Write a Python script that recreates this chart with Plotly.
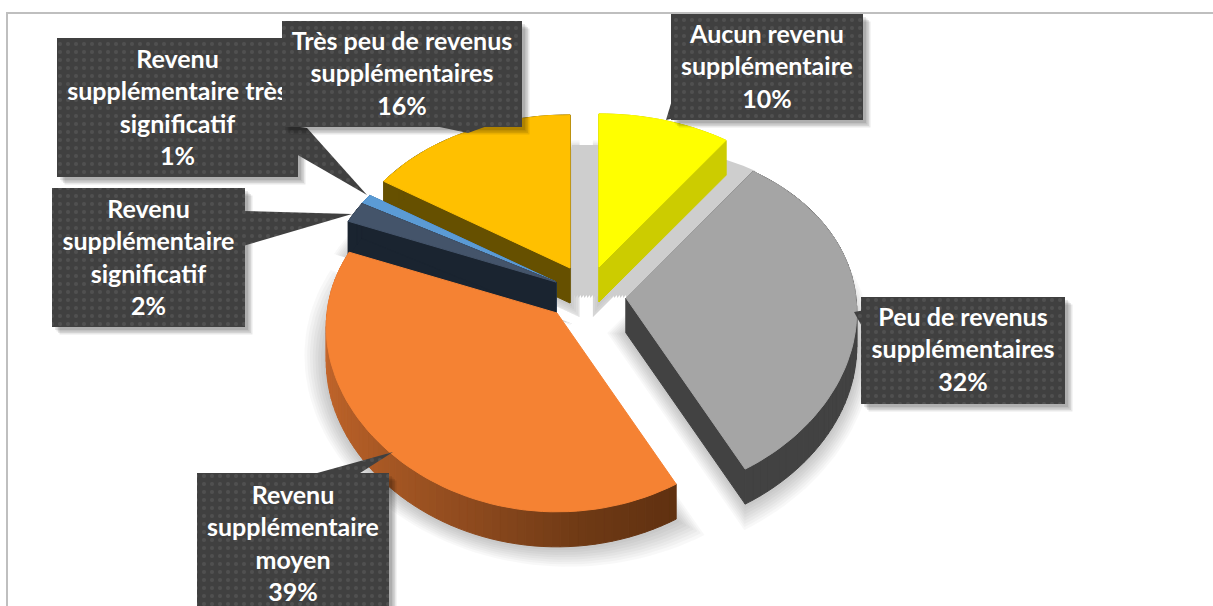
import math
import plotly.graph_objects as go

# ---- data ----
categories = ["Aucun revenu supplémentaire", "Peu de revenus supplémentaires",
              "Revenu supplémentaire moyen", "Revenu supplémentaire significatif",
              "Revenu supplémentaire très significatif", "Très peu de revenus supplémentaires"]
values = [10, 32, 39, 2, 1, 16]
top_colors = ["#FFFF00", "#A5A5A5", "#F58233", "#44546A", "#5B9BD5", "#FFC000"]
wall_colors = ["#CCCC00", "#424242", "#8E4A1E", "#1A2430", "#2F5F8F", "#665000"]
label_lines = [
    "Aucun revenu<br>supplémentaire<br>10%",
    "Peu de revenus<br>supplémentaires<br>32%",
    "Revenu<br>supplémentaire<br>moyen<br>39%",
    "Revenu<br>supplémentaire<br>significatif<br>2%",
    "Revenu<br>supplémentaire très<br>significatif<br>1%",
    "Très peu de revenus<br>supplémentaires<br>16%",
]

# ---- layout constants (pixel-like plot units) ----
W, H = 1213, 606
RX, RY, PERSP_X, PERSP_Y, DEPTH = 230, 173, 0.08, 0.13, 35
apex = [(599, 267), (626, 298), (557, 313), (556, 282), (556, 282), (570, 268)]
boxes = [(671, 14, 863, 120), (861, 297, 1065, 404), (197, 473, 389, 640),
         (52, 188, 245, 327), (57, 38, 298, 177), (282, 21, 522, 127)]
tails = [
    [(672, 100), (666, 120), (675, 118)],
    [(865, 310), (854, 312), (865, 332)],
    [(310, 475), (393, 452), (357, 475)],
    [(243, 211), (352, 214), (243, 246)],
    [(285, 125), (307, 128), (367, 195), (296, 154)],
    [(430, 125), (468, 133), (490, 125)],
]
label_y = [69, 352, 546, 260, 110, 76]
BOX_BG, BOX_DOT = "#404040", "#505050"


def pt(center, theta_deg, scale=1.0):
    t = math.radians(theta_deg)
    c = math.cos(t)
    return (center[0] + scale * RX * math.sin(t) / (1 + PERSP_X * c),
            center[1] - scale * RY * c / (1 + PERSP_Y * c))


def arc(center, a, b, scale=1.0):
    n = max(2, int(abs(b - a) / 2))
    return [pt(center, a + (b - a) * i / n, scale) for i in range(n + 1)]


total = sum(values)
angles = []
acc = 0
for v in values:
    angles.append((acc * 360 / total, (acc + v) * 360 / total))
    acc += v


def wedge(i, dx=0, dy=0, scale=1.0):
    c = (apex[i][0] + dx, apex[i][1] + dy)
    return [c] + arc(c, angles[i][0], angles[i][1], scale) + [c]


def dilated(i, dy, grow):
    """Slice outline pushed outwards by about `grow` units on all sides."""
    a0, a1 = angles[i]
    half = math.radians(max((a1 - a0) / 2, 15))
    mid = math.radians((a0 + a1) / 2)
    back = min(grow / math.sin(half), 20)
    dx_ = -back * math.sin(mid)
    dy_ = back * math.cos(mid) * RY / RX
    return wedge(i, dx_, dy + dy_, 1 + (back + grow) / RX)


fig = go.Figure()


def poly(points, color, xa="x", ya="y", line=None, name=None, pattern=None):
    kw = {"fillpattern": pattern} if pattern else {}
    fig.add_trace(go.Scatter(
        x=[p[0] for p in points], y=[p[1] for p in points], mode="lines", fill="toself",
        fillcolor=color, line=dict(color=line or "rgba(0,0,0,0)", width=1 if line else 0),
        hoverinfo="skip", showlegend=False, xaxis=xa, yaxis=ya, name=name, **kw))


# frame
fig.add_trace(go.Scatter(x=[7, 7, W], y=[H, 13, 13], mode="lines",
                         line=dict(color="#BFBFBF", width=2),
                         hoverinfo="skip", showlegend=False))

# soft shadows
for i in [5, 0, 4, 3, 1, 2]:
    for k in range(9):
        poly(dilated(i, DEPTH + 1, 2.0 * k), "rgba(0,0,0,0.026)")
# hard shadow behind the yellow slice
for k in range(-27, 31, 3):
    poly(wedge(0, k, 31), "#CECECE")


def lerp_hex(c1, c2, t):
    a = [int(c1[j:j + 2], 16) for j in (1, 3, 5)]
    b = [int(c2[j:j + 2], 16) for j in (1, 3, 5)]
    return "#%02X%02X%02X" % tuple(round(a[j] + (b[j] - a[j]) * t) for j in range(3))


orange_wall_stops = [(150, "#5F3010"), (175, "#6F3A15"), (200, "#8E4A1E"),
                     (230, "#AC5A25"), (270, "#C8692D"), (292, "#C8692D")]


def orange_wall(theta):
    for (a, ca), (b, cb) in zip(orange_wall_stops, orange_wall_stops[1:]):
        if a <= theta <= b:
            return lerp_hex(ca, cb, (theta - a) / (b - a))
    return orange_wall_stops[-1][1]


# slices, back to front
for i in [5, 0, 4, 3, 1, 2]:
    c = apex[i]
    a0, a1 = angles[i]
    outline = wedge(i)
    low = [(x, y + DEPTH) for x, y in outline]
    if i == 2:
        pts = arc(c, a0, a1)
        n = len(pts) - 1
        for j in range(n):
            th = a0 + (a1 - a0) * (j + .5) / n
            col = orange_wall(th)
            p, q = pts[j], pts[j + 1]
            poly([p, q, (q[0], q[1] + DEPTH), (p[0], p[1] + DEPTH), p], col, line=col)
    else:
        for j in range(len(outline) - 1):
            p, q = outline[j], outline[j + 1]
            poly([p, q, low[j + 1], low[j], p], wall_colors[i], line=wall_colors[i])
    poly(outline, top_colors[i], line=top_colors[i], name=categories[i])

# call-out boxes: "très significatif" lies beneath the others
layers = {4: ("x2", "y2")}
for i in [4, 3, 2, 1, 0, 5]:
    xa, ya = layers.get(i, ("x3", "y3"))
    x0, y0, x1, y1 = boxes[i]
    rect = [(x0, y0), (x1, y0), (x1, y1), (x0, y1), (x0, y0)]
    for k in range(4):
        off = 3 + k * 1.5
        poly([(x + off, y + off) for x, y in rect], "rgba(0,0,0,0.09)", xa, ya)
    pattern = dict(shape=".", bgcolor=BOX_BG, fgcolor=BOX_DOT, size=8, solidity=0.2, fillmode="replace")
    poly(tails[i] + [tails[i][0]], BOX_BG, xa, ya, pattern=pattern)
    poly(rect, BOX_BG, xa, ya, pattern=pattern)
    fig.add_trace(go.Scatter(
        x=[(x0 + x1) / 2], y=[label_y[i]], mode="text", text=[label_lines[i]],
        textposition="middle center",
        textfont=dict(family="Lato", size=25, color="#FFFFFF", weight="bold"),
        hoverinfo="skip", showlegend=False, xaxis=xa, yaxis=ya))

axis = dict(range=[0, W], visible=False, fixedrange=True)
yaxis = dict(range=[H, 0], visible=False, fixedrange=True)
fig.update_layout(
    width=W, height=H, margin=dict(l=0, r=0, t=0, b=0),
    paper_bgcolor="white", plot_bgcolor="white",
    xaxis=axis, yaxis=yaxis,
    xaxis2=dict(axis, overlaying="x", anchor="y2"),
    yaxis2=dict(yaxis, overlaying="y", anchor="x2"),
    xaxis3=dict(axis, overlaying="x", anchor="y3"),
    yaxis3=dict(yaxis, overlaying="y", anchor="x3"),
)
fig.write_html("out.html", config={"displayModeBar": False},
               post_script="document.body.style.margin='0';document.body.style.overflow='hidden';")
